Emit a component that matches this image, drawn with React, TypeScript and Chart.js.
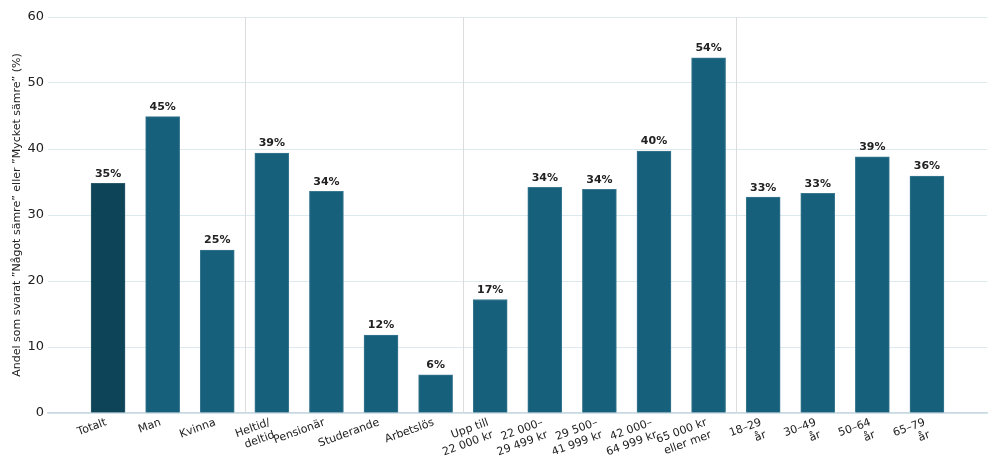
import { useEffect, useRef } from "react";
import { Chart, registerables } from "chart.js";

Chart.register(...registerables);

const categories: string[][] = [
  ["Totalt"],
  ["Man"],
  ["Kvinna"],
  ["Heltid/", "deltid"],
  ["Pensionär"],
  ["Studerande"],
  ["Arbetslös"],
  ["Upp till", "22 000 kr"],
  ["22 000–", "29 499 kr"],
  ["29 500–", "41 999 kr"],
  ["42 000–", "64 999 kr"],
  ["65 000 kr", "eller mer"],
  ["18–29", "år"],
  ["30–49", "år"],
  ["50–64", "år"],
  ["65–79", "år"],
];

const values = [34.8, 44.9, 24.7, 39.4, 33.6, 11.8, 5.8, 17.2, 34.2, 33.9, 39.7, 53.8, 32.7, 33.3, 38.8, 35.9];
const valueLabels = ["35%", "45%", "25%", "39%", "34%", "12%", "6%", "17%", "34%", "34%", "40%", "54%", "33%", "33%", "39%", "36%"];
const groupBreaks = [2.5, 6.5, 11.5];
const yTicks = [0, 10, 20, 30, 40, 50, 60];

const FONT = "'DejaVu Sans', sans-serif";

export default function App() {
  const chartRef = useRef<Chart | null>(null);
  const canvasRef = useRef<HTMLCanvasElement | null>(null);

  useEffect(() => {
    document.body.style.margin = "0";

    const separators = {
      id: "separators",
      beforeDatasetsDraw(chart: any) {
        const { ctx, chartArea, scales } = chart;
        ctx.save();
        ctx.strokeStyle = "#dcdcdc";
        ctx.lineWidth = 1;
        groupBreaks.forEach((b) => {
          const x = Math.round(scales.x.getPixelForValue(b)) + 0.5;
          ctx.beginPath();
          ctx.moveTo(x, chartArea.top);
          ctx.lineTo(x, chartArea.bottom);
          ctx.stroke();
        });
        ctx.restore();
      },
    };

    const barLabels = {
      id: "barLabels",
      afterDatasetsDraw(chart: any) {
        const { ctx } = chart;
        const meta = chart.getDatasetMeta(0);
        ctx.save();
        ctx.font = `bold 11px ${FONT}`;
        ctx.fillStyle = "#222222";
        ctx.textAlign = "center";
        ctx.textBaseline = "bottom";
        meta.data.forEach((bar: any, i: number) => {
          ctx.fillText(valueLabels[i], bar.x, bar.y - 4);
        });
        ctx.restore();
      },
    };

    if (chartRef.current) {
      chartRef.current.destroy();
    }

    const ctx = canvasRef.current?.getContext("2d");
    if (ctx) {
      chartRef.current = new Chart(ctx, {
        type: "bar",
        data: {
          datasets: [
            {
              data: values.map((v, i) => ({ x: i, y: v })),
              backgroundColor: values.map((_, i) => (i === 0 ? "#0e4458" : "#17607b")),
              borderColor: values.map((_, i) => (i === 0 ? "#2a5a6c" : "#3a7890")),
              borderWidth: { left: 1, right: 1, top: 1, bottom: 0 },
              barThickness: 34,
            },
          ],
        },
        options: {
          animation: false,
          responsive: true,
          maintainAspectRatio: false,
          layout: { padding: { top: 17, right: 13, left: 0, bottom: 0 } },
          plugins: {
            legend: { display: false },
            tooltip: { enabled: false },
          },
          scales: {
            x: {
              type: "linear",
              offset: false,
              min: -1.1,
              max: 16.1,
              grid: { display: false, offset: false, drawTicks: false },
              border: { color: "#c9d9e2", width: 1.5 },
              afterBuildTicks: (axis: any) => {
                axis.ticks = categories.map((_, i) => ({ value: i }));
              },
              afterFit: (axis: any) => {
                axis.height = 54;
              },
              ticks: {
                autoSkip: false,
                minRotation: 20,
                maxRotation: 20,
                color: "#222222",
                font: { family: FONT, size: 11 },
                padding: 3,
                labelOffset: -2,
                callback: (v: any) => categories[v as number] ?? "",
              },
            },
            y: {
              min: 0,
              max: 60,
              afterBuildTicks: (axis: any) => {
                axis.ticks = yTicks.map((v) => ({ value: v }));
              },
              afterFit: (axis: any) => {
                axis.width = 48;
              },
              grid: { color: "#dce9ef", drawTicks: false },
              border: { display: false },
              ticks: {
                color: "#222222",
                font: { family: FONT, size: 13 },
                padding: 4,
              },
              title: {
                display: true,
                text: "Andel som svarat ”Något sämre” eller ”Mycket sämre” (%)",
                color: "#222222",
                font: { family: FONT, size: 11 },
                padding: { top: 11, bottom: 4 },
              },
            },
          },
        },
        plugins: [separators, barLabels],
      });
    }

    return () => {
      if (chartRef.current) {
        chartRef.current.destroy();
      }
    };
  }, []);

  return (
    <div style={{ position: "relative", width: 1000, height: 467, background: "#ffffff" }}>
      <canvas ref={canvasRef} />
    </div>
  );
}
